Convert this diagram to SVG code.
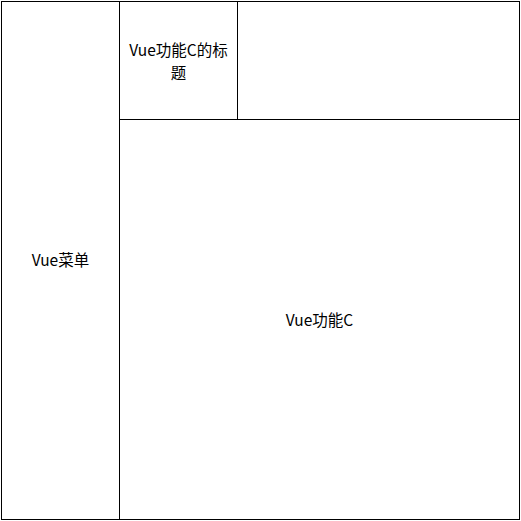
<svg xmlns="http://www.w3.org/2000/svg" width="521" height="521" viewBox="0 0 521 521">
<style>
.box{fill:#fff;stroke:#000;stroke-width:1}
.t{font-family:"Noto Sans CJK SC","Noto Sans",sans-serif;font-size:15.5px;fill:#000;text-anchor:middle}
</style>
<rect x="0" y="0" width="521" height="521" fill="#fff"/>
<g id="menu"><rect class="box" x="1.5" y="1.5" width="118" height="518"/><text class="t" x="60.5" y="266">Vue菜单</text></g>
<g id="title"><rect class="box" x="119.5" y="1.5" width="118" height="118"/><text class="t" x="178.5" y="56">Vue功能C的标</text><text class="t" x="178.5" y="79">题</text></g>
<g id="topright"><rect class="box" x="237.5" y="1.5" width="282" height="118"/></g>
<g id="main"><rect class="box" x="119.5" y="119.5" width="400" height="400"/><text class="t" x="319.5" y="326">Vue功能C</text></g>
<g id="connectors"></g>
</svg>
